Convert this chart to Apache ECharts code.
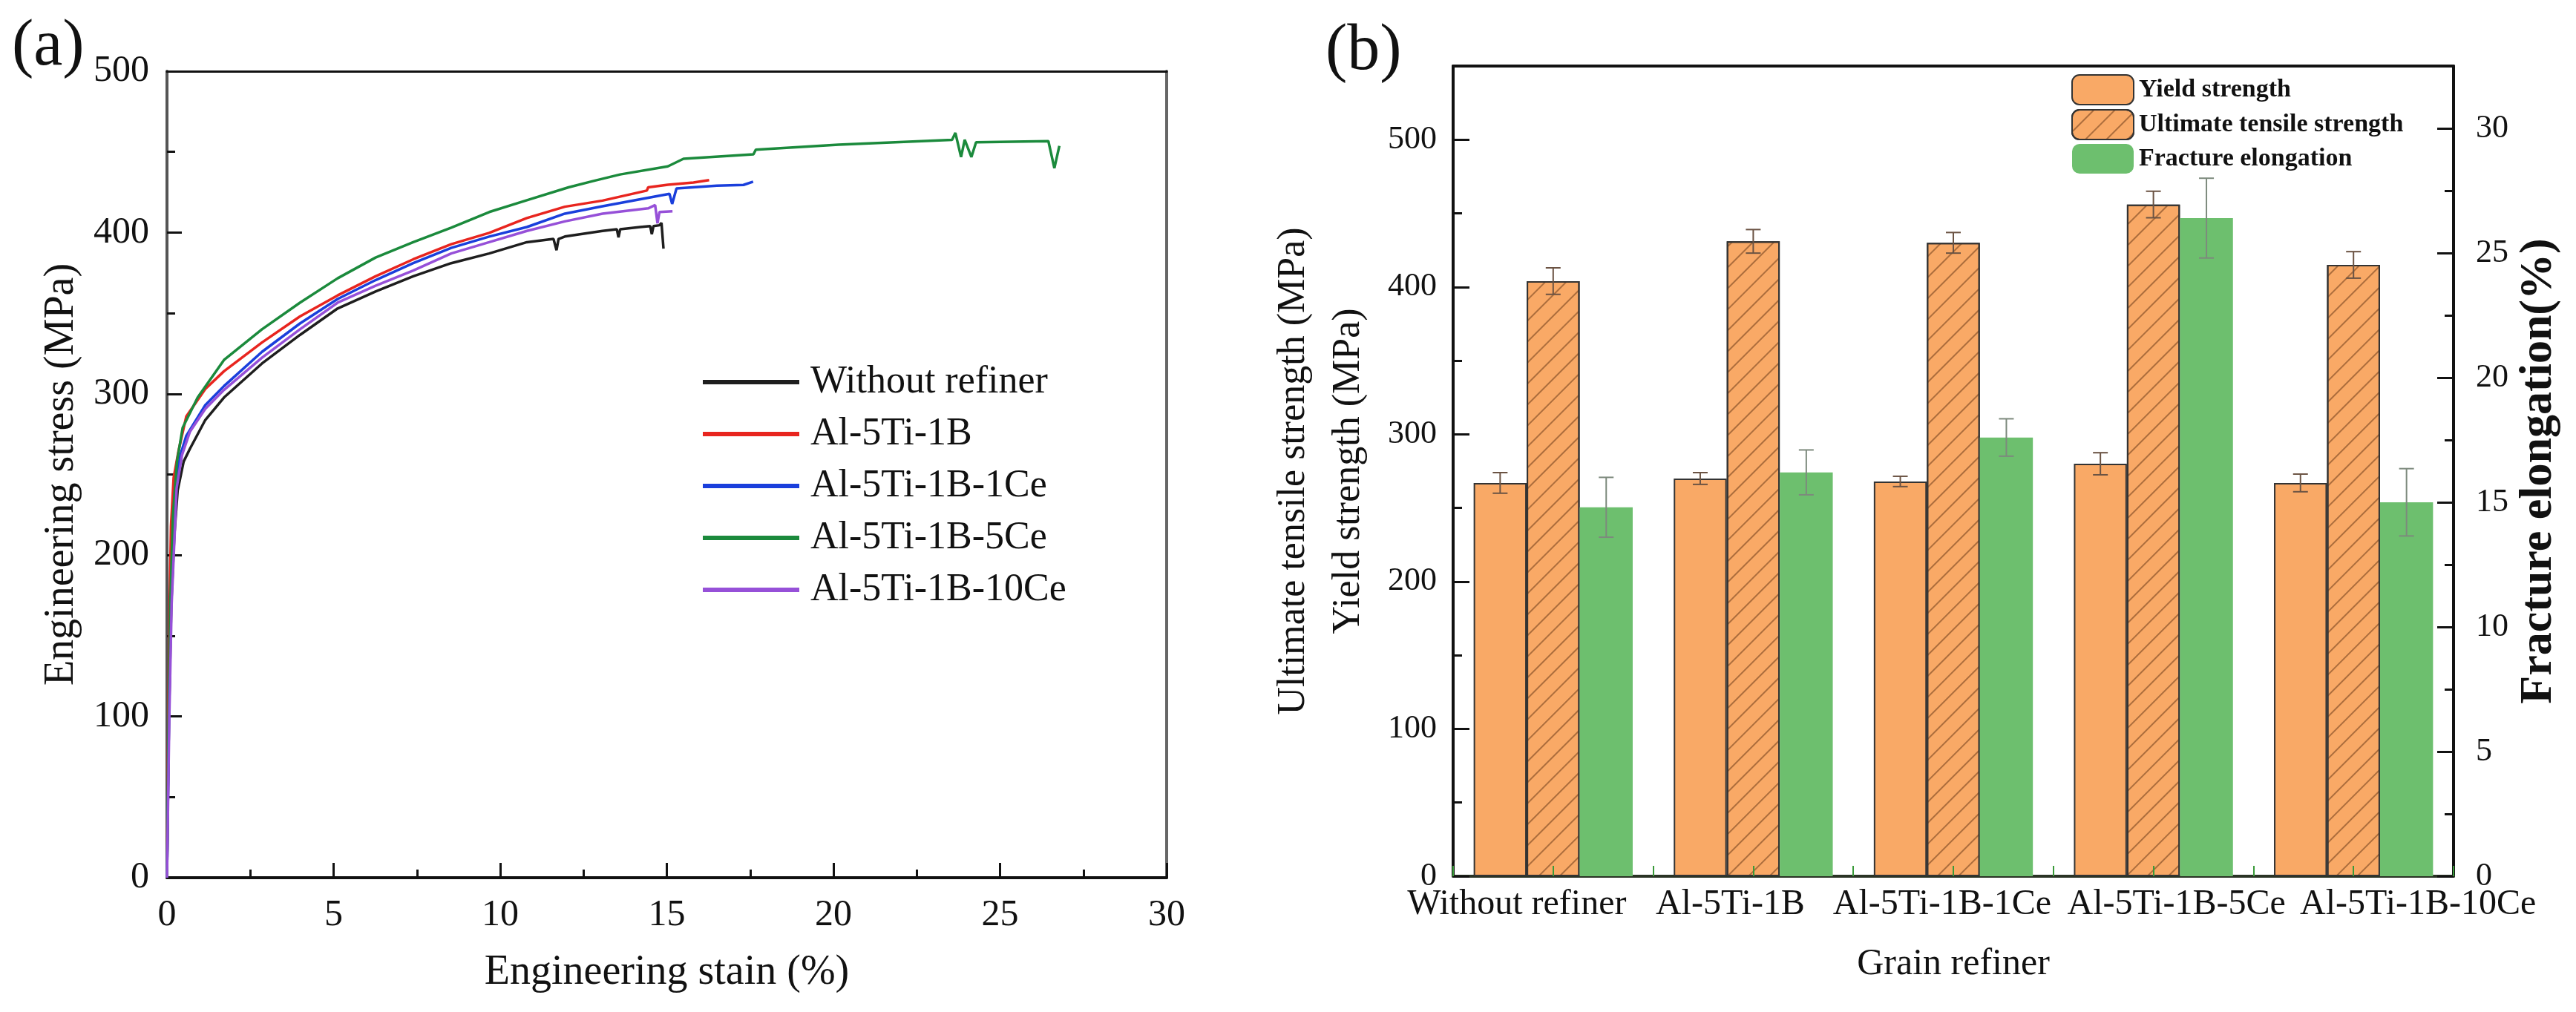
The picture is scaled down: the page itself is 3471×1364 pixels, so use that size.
<!DOCTYPE html>
<html><head><meta charset="utf-8">
<script src="https://cdn.jsdelivr.net/npm/echarts@6/dist/echarts.min.js"></script>
<style>html,body{margin:0;padding:0;background:#fff}#c{width:3471px;height:1364px}</style>
</head><body><div id="c"></div>
<script>
const FONT = 'Liberation Serif';

// ---- panel (a): engineering stress-strain curves [strain %, stress MPa]
const lineNames = ['Without refiner', 'Al-5Ti-1B', 'Al-5Ti-1B-1Ce', 'Al-5Ti-1B-5Ce', 'Al-5Ti-1B-10Ce'];
const lineColors = ['#1e1e1e', '#e8251f', '#1a3fdc', '#1b8a3c', '#9650d8'];
const curveWithout = [[0,0],[0.06,100],[0.13,170],[0.22,212],[0.32,240],[0.5,258],[0.69,266],[1.15,283.8],[1.71,297.7],[2.85,318.8],[3.99,336.5],[5.12,352.9],[6.26,363.4],[7.39,372.9],[8.53,381],[9.67,387],[10.8,394],[11.6,396],[11.69,389],[11.75,396],[11.94,397.5],[13.07,401],[13.5,402],[13.55,397],[13.6,402],[14.2,403.4],[14.5,404],[14.55,399],[14.6,404],[14.78,404.5],[14.84,406],[14.9,390]];
const curveTiB = [[0,0],[0.04,100],[0.08,170],[0.12,218],[0.2,248],[0.35,265],[0.58,286],[1.15,303],[1.71,314],[2.85,331.8],[3.99,348],[5.12,361],[6.26,372.9],[7.39,383.4],[8.53,392.8],[9.67,399.8],[10.8,409],[11.94,416],[13.07,419.8],[14.4,426],[14.44,428],[15.03,429.6],[15.8,431],[16.27,432.5]];
const curveTiB1Ce = [[0,0],[0.06,100],[0.12,170],[0.24,241.5],[0.4,262],[0.58,274],[1.15,293],[1.71,304.8],[2.85,326],[3.99,343.6],[5.12,358.8],[6.26,370.5],[7.39,381],[8.53,390.5],[9.67,397.5],[10.8,403.4],[11.94,411.7],[13.07,416.3],[15.08,424],[15.16,417.7],[15.29,427.3],[16.5,429],[17.3,429.5],[17.59,431.5]];
const curveTiB5Ce = [[0,0],[0.05,100],[0.1,170],[0.18,225],[0.3,258],[0.47,279],[0.92,297.7],[1.71,321],[2.85,340],[3.99,356.5],[5.12,371.6],[6.26,384.5],[7.39,394],[8.53,403],[9.67,412.7],[10.8,420],[12.05,428],[12.8,432],[13.6,436],[15.03,441],[15.5,445.7],[17.6,448.5],[17.67,451.4],[20.15,454.5],[23.56,457.5],[23.66,461.8],[23.83,446.8],[23.94,457.5],[24.14,446.8],[24.28,456],[26.45,456.7],[26.63,439.9],[26.78,453.7]];
const curveTiB10Ce = [[0,0],[0.07,100],[0.14,170],[0.29,241.5],[0.45,262],[0.69,276.6],[1.15,290.7],[1.71,302.4],[2.85,322.4],[3.99,340],[5.12,356.5],[6.26,367],[7.39,376.4],[8.53,387],[9.67,394],[10.8,401],[11.94,406.9],[13.07,411.7],[14.44,415],[14.65,417],[14.72,405.7],[14.78,412.7],[15.17,413.2]];
const curves = [curveWithout, curveTiB, curveTiB1Ce, curveTiB5Ce, curveTiB10Ce];

// ---- panel (b): strength and elongation
const categories = ['Without refiner', 'Al-5Ti-1B', 'Al-5Ti-1B-1Ce', 'Al-5Ti-1B-5Ce', 'Al-5Ti-1B-10Ce'];
const barNames = ['Yield strength', 'Ultimate tensile strength', 'Fracture elongation'];
const yieldStrength = [267, 270, 268, 280, 267];
const yieldErr = [7, 4, 3.5, 7.5, 6];
const tensileStrength = [404, 431, 430, 456, 415];
const tensileErr = [9, 8, 7, 9, 9];
const elongation = [14.8, 16.2, 17.6, 26.4, 15.0];
const elongationErr = [1.2, 0.9, 0.75, 1.6, 1.35];

// layout-only: horizontal shift (px) of each category label, as in the original figure
const labelShift = [-49, -31, -15, 31, 87];

const BAR_FRAC = 0.265;
const ORANGE = '#f9a966';
const GREEN = '#6dbf6e';

function errData(vals, errs) {
  return vals.map((v, i) => [i, v - errs[i], v + errs[i]]);
}
function errSeries(name, k, vals, errs, yIdx, color) {
  return {
    type: 'custom', name: name + ' error', xAxisIndex: 2, yAxisIndex: yIdx, z: 10,
    silent: true, legendHoverLink: false,
    data: errData(vals, errs), encode: { x: 0, y: [1, 2] },
    renderItem: function (params, api) {
      const cat = api.value(0);
      const bw = api.size([1, 0])[0] * BAR_FRAC;
      const lo = api.coord([cat, api.value(1)]);
      const hi = api.coord([cat, api.value(2)]);
      const x = lo[0] + (k - 1) * bw;
      const cap = 10;
      const st = { stroke: color, lineWidth: 2 };
      return { type: 'group', children: [
        { type: 'line', shape: { x1: x, y1: lo[1], x2: x, y2: hi[1] }, style: st },
        { type: 'line', shape: { x1: x - cap, y1: lo[1], x2: x + cap, y2: lo[1] }, style: st },
        { type: 'line', shape: { x1: x - cap, y1: hi[1], x2: x + cap, y2: hi[1] }, style: st }
      ]};
    }
  };
}

const tickFont = { fontFamily: FONT, color: '#111' };

const option = {
  animation: false,
  backgroundColor: '#fff',
  title: [
    { text: '(a)', left: 16, top: 20, padding: 0, textStyle: { fontFamily: FONT, fontSize: 88, fontWeight: 'normal', color: '#111' } },
    { text: '(b)', left: 1786, top: 26, padding: 0, textStyle: { fontFamily: FONT, fontSize: 88, fontWeight: 'normal', color: '#111' } }
  ],
  legend: [
    {
      data: lineNames, orient: 'vertical', left: 947, top: 485, padding: 0,
      icon: 'rect', itemWidth: 130, itemHeight: 6, itemGap: 10,
      textStyle: { fontFamily: FONT, fontSize: 52, color: '#111', lineHeight: 60, padding: [0, 0, 0, 10] }
    },
    {
      data: barNames, orient: 'vertical', left: 2791, top: 100, padding: 0,
      itemWidth: 83, itemHeight: 40, itemGap: 5,
      textStyle: { fontFamily: FONT, fontSize: 34, fontWeight: 'bold', color: '#111', padding: [0, 0, 0, 2] }
    }
  ],
  grid: [
    { left: 225, right: 1899, top: 96, bottom: 181, containLabel: false, outerBoundsMode: 'none' },
    { left: 1958, right: 165, top: 89, bottom: 183, containLabel: false, outerBoundsMode: 'none' }
  ],
  xAxis: [
    {
      type: 'value', gridIndex: 0, min: 0, max: 30, interval: 5,
      name: 'Engineering stain (%)', nameLocation: 'middle', nameGap: 100,
      nameTextStyle: { fontFamily: FONT, fontSize: 56, color: '#111' },
      axisLine: { show: true, onZero: false, lineStyle: { color: '#111', width: 4 } },
      axisTick: { show: true, inside: true, length: 20, lineStyle: { color: '#111', width: 3 } },
      minorTick: { show: true, splitNumber: 2, length: 11, lineStyle: { color: '#111', width: 3 } },
      axisLabel: Object.assign({ fontSize: 50, margin: 26 }, tickFont),
      splitLine: { show: false }
    },
    {
      type: 'value', gridIndex: 0, min: 0, max: 30, position: 'top',
      axisLine: { show: true, onZero: false, lineStyle: { color: '#111', width: 3 } },
      axisTick: { show: false }, axisLabel: { show: false }, splitLine: { show: false }
    },
    {
      type: 'category', gridIndex: 1,
      data: categories.map((c, i) => ({
        value: c,
        textStyle: { padding: labelShift[i] > 0 ? [0, 0, 0, 2 * labelShift[i]] : [0, -2 * labelShift[i], 0, 0] }
      })),
      name: 'Grain refiner', nameLocation: 'middle', nameGap: 94,
      nameTextStyle: { fontFamily: FONT, fontSize: 50, color: '#111' },
      axisLine: { show: true, onZero: false, lineStyle: { color: '#2a3324', width: 4 } },
      axisTick: { show: false },
      axisLabel: Object.assign({ fontSize: 48, margin: 14, interval: 0, hideOverlap: false }, tickFont),
      splitLine: { show: false }
    },
    {
      type: 'value', gridIndex: 1, min: 0, max: 10, interval: 1, position: 'bottom', z: 20,
      axisLine: { show: false },
      axisTick: { show: true, inside: true, length: 14, lineStyle: { color: '#3a9a3a', width: 2 } },
      axisLabel: { show: false }, splitLine: { show: false }
    },
    {
      type: 'value', gridIndex: 1, min: 0, max: 10, position: 'top',
      axisLine: { show: true, onZero: false, lineStyle: { color: '#111', width: 4 } },
      axisTick: { show: false }, axisLabel: { show: false }, splitLine: { show: false }
    }
  ],
  yAxis: [
    {
      type: 'value', gridIndex: 0, min: 0, max: 500, interval: 100,
      name: 'Engineering stress (MPa)', nameLocation: 'middle', nameGap: 114, nameRotate: 90,
      nameTextStyle: { fontFamily: FONT, fontSize: 56, color: '#111' },
      axisLine: { show: true, onZero: false, lineStyle: { color: '#555', width: 4 } },
      axisTick: { show: true, inside: true, length: 20, lineStyle: { color: '#111', width: 3 } },
      minorTick: { show: true, splitNumber: 2, length: 11, lineStyle: { color: '#111', width: 3 } },
      axisLabel: Object.assign({ fontSize: 50, margin: 24 }, tickFont),
      splitLine: { show: false }
    },
    {
      type: 'value', gridIndex: 0, min: 0, max: 500, position: 'right',
      axisLine: { show: true, onZero: false, lineStyle: { color: '#666', width: 4 } },
      axisTick: { show: false }, axisLabel: { show: false }, splitLine: { show: false }
    },
    {
      type: 'value', gridIndex: 1, min: 0, max: 550, interval: 100,
      name: 'Ultimate tensile strength (MPa)\nYield strength (MPa)', nameLocation: 'middle', nameGap: 104, nameRotate: 90,
      nameTextStyle: { fontFamily: FONT, fontSize: 52, color: '#111', lineHeight: 74 },
      axisLine: { show: true, onZero: false, lineStyle: { color: '#111', width: 4 } },
      axisTick: { show: true, inside: true, length: 22, lineStyle: { color: '#111', width: 3 } },
      minorTick: { show: true, splitNumber: 2, length: 12, lineStyle: { color: '#111', width: 3 } },
      axisLabel: Object.assign({ fontSize: 44, margin: 22, showMaxLabel: false }, tickFont),
      splitLine: { show: false }
    },
    {
      type: 'value', gridIndex: 1, min: 0, max: 32.5, interval: 5, position: 'right',
      name: 'Fracture elongation(%)', nameLocation: 'middle', nameGap: 84, nameRotate: 90,
      nameTextStyle: { fontFamily: FONT, fontSize: 62, fontWeight: 'bold', color: '#111' },
      axisLine: { show: true, onZero: false, lineStyle: { color: '#111', width: 4 } },
      axisTick: { show: true, inside: true, length: 22, lineStyle: { color: '#111', width: 3 } },
      minorTick: { show: true, splitNumber: 2, length: 12, lineStyle: { color: '#111', width: 3 } },
      axisLabel: Object.assign({ fontSize: 44, margin: 30, showMaxLabel: false }, tickFont),
      splitLine: { show: false }
    }
  ],
  series: [
    ...lineNames.map((n, i) => ({
      type: 'line', name: n, xAxisIndex: 0, yAxisIndex: 0,
      data: curves[i], showSymbol: false, symbol: 'none',
      lineStyle: { color: lineColors[i], width: 3.5 }, itemStyle: { color: lineColors[i] },
      z: 2 + i
    })),
    {
      type: 'bar', name: barNames[0], xAxisIndex: 2, yAxisIndex: 2, data: yieldStrength,
      barWidth: (BAR_FRAC * 100) + '%', barGap: '0%',
      itemStyle: { color: ORANGE, borderColor: '#333', borderWidth: 2 }
    },
    {
      type: 'bar', name: barNames[1], xAxisIndex: 2, yAxisIndex: 2, data: tensileStrength,
      barWidth: (BAR_FRAC * 100) + '%', barGap: '0%',
      itemStyle: { color: ORANGE, borderColor: '#333', borderWidth: 2,
        decal: { symbol: 'rect', symbolSize: 1, dashArrayX: [1, 0], dashArrayY: [2, 18], rotation: -Math.PI / 4, color: 'rgba(110,60,25,0.55)' } }
    },
    {
      type: 'bar', name: barNames[2], xAxisIndex: 2, yAxisIndex: 3, data: elongation,
      barWidth: (BAR_FRAC * 100) + '%', barGap: '0%',
      itemStyle: { color: GREEN, borderWidth: 0 }
    },
    errSeries(barNames[0], 0, yieldStrength, yieldErr, 2, '#6b5343'),
    errSeries(barNames[1], 1, tensileStrength, tensileErr, 2, '#6b5343'),
    errSeries(barNames[2], 2, elongation, elongationErr, 3, '#7d8a7d')
  ]
};

const chart = echarts.init(document.getElementById('c'), null, { renderer: 'canvas' });
chart.setOption(option);
</script>
</body></html>
